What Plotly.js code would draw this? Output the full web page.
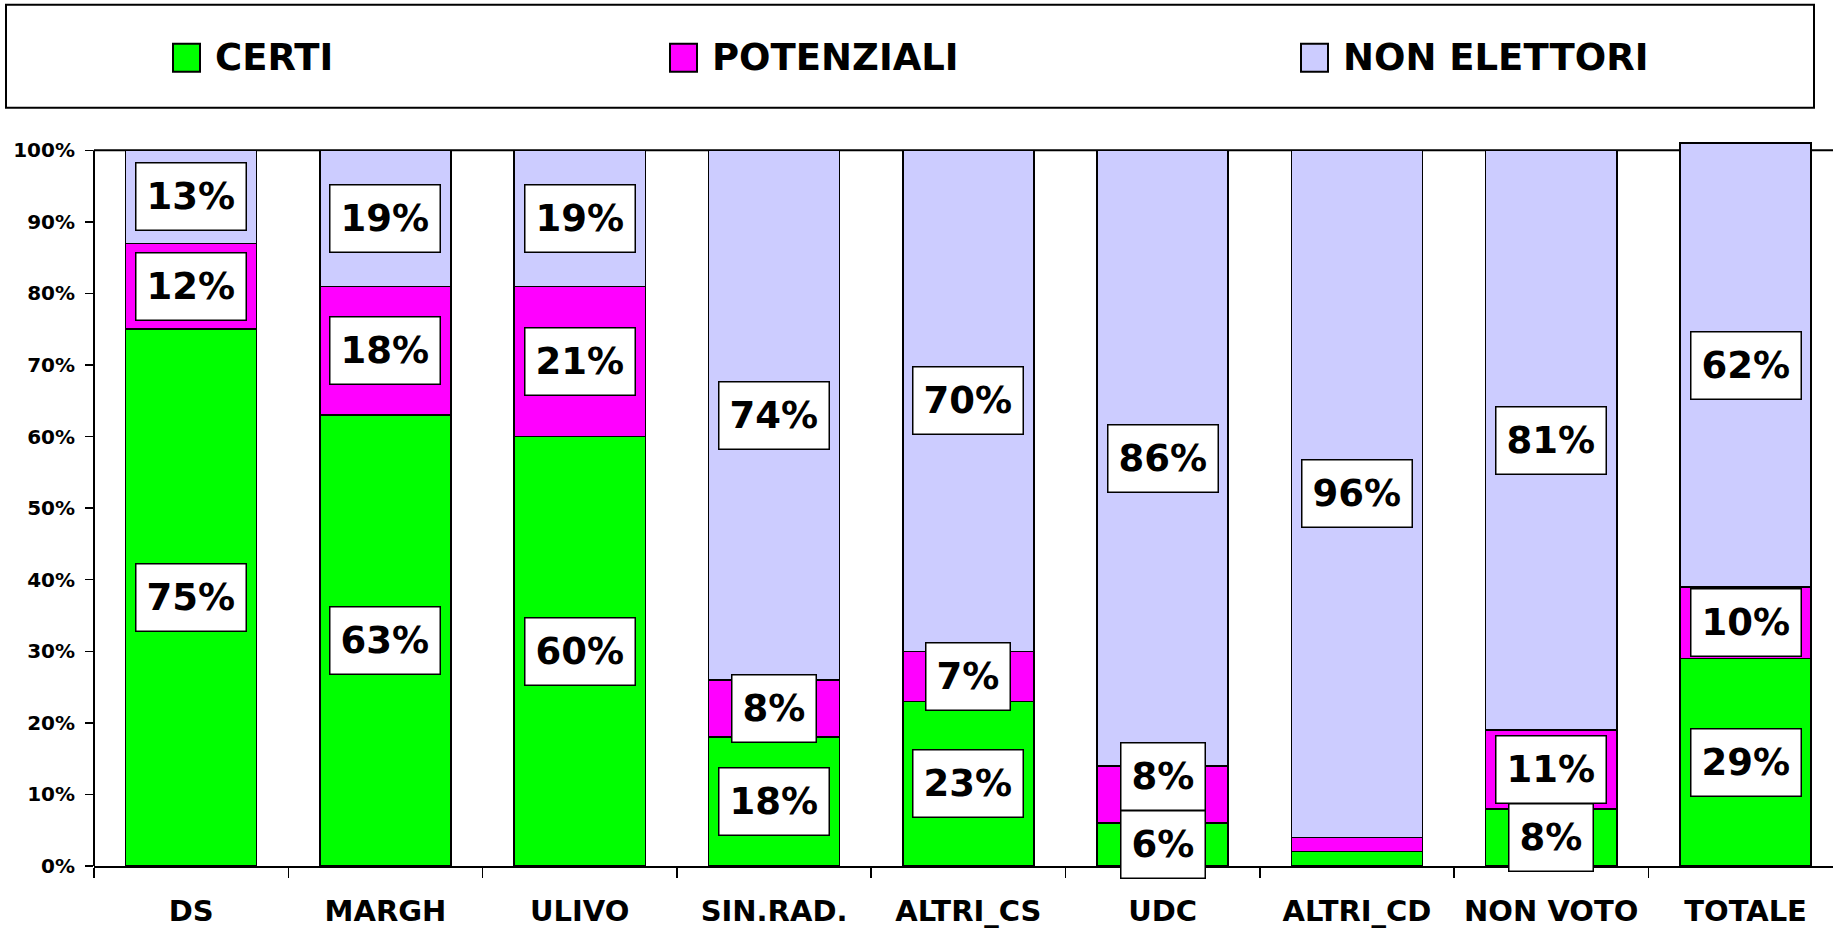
<!DOCTYPE html>
<html>
<head>
<meta charset="utf-8">
<script src="https://cdn.plot.ly/plotly-3.0.1.min.js"></script>
<style>
  html, body { margin: 0; padding: 0; background: #fff; }
  #plot { width: 1833px; height: 930px; }
</style>
</head>
<body>
<div id="plot"></div>
<script>
var categories = ['DS', 'MARGH', 'ULIVO', 'SIN.RAD.', 'ALTRI_CS', 'UDC', 'ALTRI_CD', 'NON VOTO', 'TOTALE'];
var certi = [75, 63, 60, 18, 23, 6, 2, 8, 29];
var potenziali = [12, 18, 21, 8, 7, 8, 2, 11, 10];
var nonElettori = [13, 19, 19, 74, 70, 86, 96, 81, 62];
var seriesNames = ['CERTI', 'POTENZIALI', 'NON ELETTORI'];
var seriesColors = ['#00ff00', '#ff00ff', '#ccccff'];
var yTicks = [0, 10, 20, 30, 40, 50, 60, 70, 80, 90, 100];

var W = 1833, H = 930;
var Y_MAX = 102;                       // a little headroom so TOTALE (101%) pokes over the 100% line
var PX_PER_PCT = 7.155;
var M = {l: 94, r: 0, t: 150.5 - (Y_MAX - 100) * PX_PER_PCT, b: 64};
var FONT = 'DejaVu Sans, Verdana, sans-serif';

// pixel -> paper helpers for the hand-drawn legend box
function px(x) { return (x - M.l) / (W - M.l - M.r); }
function py(y) { return (H - M.b - y) / (H - M.t - M.b); }

var allSeries = [certi, potenziali, nonElettori];

var data = allSeries.map(function (vals, i) {
    return {
        type: 'bar',
        x: categories,
        y: vals,
        name: seriesNames[i],
        marker: {color: seriesColors[i], line: {color: '#000', width: 1.5}},
        hoverinfo: 'x+y+name'
    };
});

// data labels: boxed, centred in each segment, pushed up if they would overlap the one below
var annotations = [];
var boxH = 68 / PX_PER_PCT;
categories.forEach(function (cat, c) {
    var base = 0, prev = null;
    allSeries.forEach(function (vals) {
        var v = vals[c];
        var mid = base + v / 2;
        base += v;
        if (v < 5) return;
        if (prev !== null && mid - prev < boxH) mid = prev + boxH;
        prev = mid;
        annotations.push({
            x: cat, y: mid, xref: 'x', yref: 'y',
            text: v + '%', showarrow: false,
            font: {family: FONT, size: 37, color: '#000', weight: 'bold'},
            bgcolor: '#fff', bordercolor: '#000', borderwidth: 1.5, borderpad: 10,
            height: 46
        });
    });
});

// top border at 100%, drawn under the bars
var shapes = [{
    type: 'line', xref: 'paper', yref: 'y', x0: 0, x1: 1, y0: 100, y1: 100,
    line: {color: '#000', width: 2}, layer: 'below'
}];

// legend
shapes.push({
    type: 'rect', xref: 'paper', yref: 'paper',
    x0: px(6), x1: px(1814), y0: py(5), y1: py(108),
    line: {color: '#000', width: 2}, fillcolor: '#fff', layer: 'below'
});
var legendX = [173, 670, 1301];
seriesNames.forEach(function (name, i) {
    shapes.push({
        type: 'rect', xref: 'paper', yref: 'paper',
        x0: px(legendX[i]), x1: px(legendX[i] + 27), y0: py(44), y1: py(72),
        line: {color: '#000', width: 2}, fillcolor: seriesColors[i]
    });
    annotations.push({
        xref: 'paper', yref: 'paper', x: px(legendX[i] + 40), y: py(58),
        xanchor: 'left', yanchor: 'middle', showarrow: false,
        text: name,
        font: {family: FONT, size: 37, color: '#000', weight: 'bold'}
    });
});

var layout = {
    width: W, height: H,
    margin: M,
    paper_bgcolor: '#fff', plot_bgcolor: '#fff',
    barmode: 'stack',
    bargap: 0.325,
    showlegend: false,
    font: {family: FONT, color: '#000'},
    xaxis: {
        type: 'category',
        range: [-0.5, 8.45],
        tickson: 'boundaries',
        ticks: 'outside', ticklen: 10, tickwidth: 1.5, tickcolor: '#000',
        showline: true, linecolor: '#000', linewidth: 2,
        showgrid: false, zeroline: false,
        tickfont: {family: FONT, size: 29, color: '#000', weight: 'bold'},
        ticklabelstandoff: 18,
        automargin: false
    },
    yaxis: {
        range: [0, Y_MAX],
        tickvals: yTicks,
        ticktext: yTicks.map(function (t) { return t + '%'; }),
        ticks: 'outside', ticklen: 8, tickwidth: 1.5, tickcolor: '#000',
        showline: false,
        showgrid: false, zeroline: false,
        tickfont: {family: FONT, size: 20, color: '#000', weight: 'bold'},
        ticklabelstandoff: 6,
        automargin: false
    },
    annotations: annotations
};

// left axis line only up to 100%
shapes.push({
    type: 'line', xref: 'paper', yref: 'y', x0: 0, x1: 0, y0: 0, y1: 100,
    line: {color: '#000', width: 2}
});
layout.shapes = shapes;

Plotly.newPlot('plot', data, layout, {displayModeBar: false, staticPlot: true});
</script>
</body>
</html>
